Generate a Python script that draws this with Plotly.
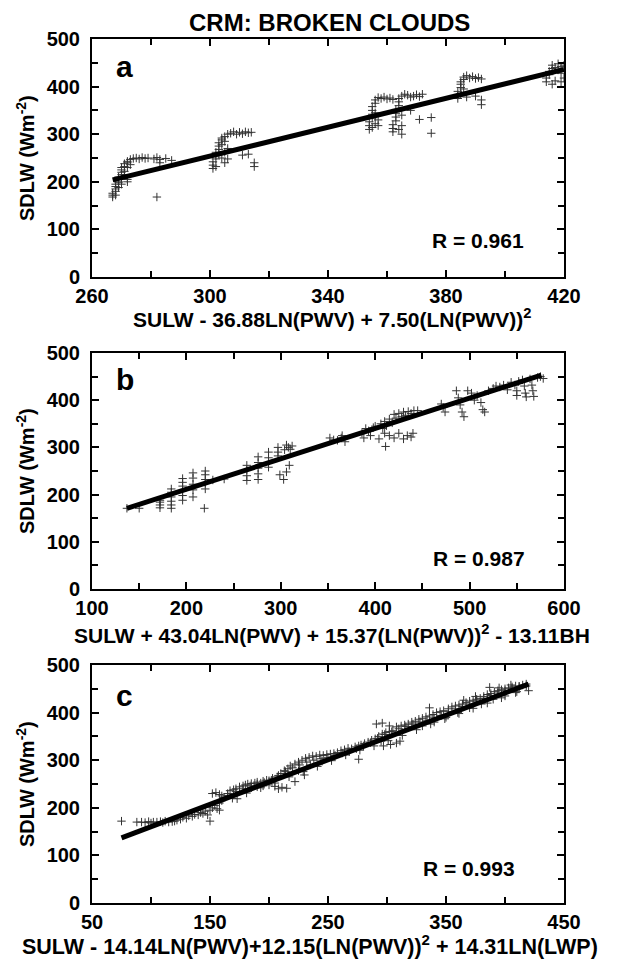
import plotly.graph_objects as go

# ---------------- data ----------------
# Panel a
a_x = [267,267,267,268,268,268,268,268,269,269,269,269,270,270,270,270,270,271,271,271,271,272,272,272,273,273,274,275,276,277,278,279,281,282,283,285,287,283,282,269,270,272,272,
       301,301,301,302,302,302,302,303,303,303,303,304,304,304,305,305,306,306,307,308,309,310,311,312,313,314,305,306,311,313,315,315,304,305,
       354,354,354,355,355,355,355,355,356,356,356,356,357,357,358,359,360,361,362,357,356,
       362,362,362,363,363,363,363,364,364,364,364,365,365,365,366,367,368,369,370,371,372,368,371,375,375,365,
       384,384,384,385,385,385,386,386,387,387,388,389,390,391,392,386,385,390,392,392,
       414,414,415,415,416,416,417,417,418,418,419,419,420,420,416,419]
a_y = [168,172,176,180,185,172,190,195,200,205,210,198,215,220,208,225,230,232,238,222,215,243,240,230,247,236,249,250,248,251,249,250,248,251,247,249,245,240,168,188,195,200,205,
       228,235,242,248,255,262,232,268,275,258,282,288,278,292,295,285,300,270,302,305,300,304,301,305,303,304,240,248,256,258,240,232,250,262,
       310,318,326,334,342,350,358,314,322,365,372,345,377,330,375,378,374,376,373,318,338,
       305,312,320,328,336,344,352,360,368,375,310,318,340,380,384,382,378,380,383,379,384,350,331,335,302,300,
       375,382,390,398,405,410,415,420,423,378,418,421,417,419,416,395,385,380,372,362,
       410,418,425,432,438,445,440,412,448,435,442,428,445,418,405,410]
a_fit_x = [267, 420]
a_fit_y = [204, 436]

# Panel b
b_x = [137,150,172,172,172,172,184,184,184,184,184,184,196,196,196,196,196,196,207,207,207,207,207,220,220,220,220,220,219,228,240,
       264,264,264,264,276,276,276,276,276,287,287,287,287,297,297,297,299,303,306,309,306,308,310,312,304,
       352,356,360,364,368,365,386,388,390,393,395,398,400,404,406,408,410,412,415,418,420,422,425,428,430,432,435,438,441,445,
       410,415,420,425,430,434,438,440,411,470,472,474,486,488,490,492,494,498,502,505,508,512,514,516,520,525,528,532,536,540,
       544,548,550,550,552,556,558,559,560,564,566,567,568,572,575,578]
b_y = [171,171,172,178,184,188,171,178,186,195,205,212,188,198,208,218,226,234,195,210,222,235,246,250,242,232,224,212,171,231,233,
       230,240,252,262,232,244,256,268,280,258,268,278,290,300,290,282,242,232,248,262,305,300,296,303,295,
       320,316,315,320,312,325,330,320,340,335,325,342,345,318,350,340,355,346,360,352,370,362,372,365,375,368,376,372,378,378,
       330,325,320,330,318,325,322,330,302,392,385,375,420,405,390,375,365,420,415,400,410,395,380,375,420,425,430,428,432,422,
       438,432,420,410,440,443,430,415,407,445,432,420,408,448,450,446]
b_fit_x = [137, 576]
b_fit_y = [171, 453]

# Panel c
c_x = [75,88,92,95,98,100,102,105,108,110,112,115,118,120,122,125,127,130,132,135,137,140,142,144,146,148,150,150,152,154,156,158,158,160,
       152,155,158,160,162,165,167,170,172,175,178,180,173,182,185,188,190,193,195,198,200,185,190,195,200,205,208,211,215,
       203,207,210,213,216,218,222,225,228,231,234,237,240,243,246,249,252,255,222,230,225,235,245,
       258,261,264,267,270,273,276,276,278,281,284,287,290,291,296,302,293,296,299,302,305,297,303,308,311,295,
       308,312,315,318,321,324,327,330,333,336,336,339,342,345,348,330,340,350,
       352,355,358,361,364,367,370,373,376,379,382,385,387,388,391,394,397,400,403,406,409,412,415,418,420,
       360,370,380,390,400,410,365,375,395,405,
       165,172,178,184,190,196,202,208,214,220,226,232,238,244,250,256,262,268,274,280,286,
       292,298,304,310,316,322,328,334,340,346,352,358,364,370,376,382,388,394,400,406,412,418,
       169,181,193,205,217,229,241,253,265,277,289,301,313,325,337,349,361,373,385,397,409]
c_y = [172,170,170,169,171,168,170,170,171,169,172,170,171,172,174,176,180,178,183,182,186,185,190,188,193,185,172,195,200,205,198,210,195,215,
       230,232,228,225,222,230,236,238,240,244,246,248,219,250,251,252,254,252,256,258,257,242,244,246,248,245,240,243,241,
       262,265,272,278,282,288,292,296,300,304,306,309,308,311,310,312,313,314,255,269,278,290,298,
       316,320,322,325,324,328,330,302,332,335,338,342,345,376,378,372,350,355,358,360,362,330,333,336,340,340,
       370,372,374,376,380,382,386,388,391,410,393,396,400,402,404,372,380,390,
       408,412,414,416,418,421,424,426,428,430,434,438,453,440,444,446,448,450,452,454,456,455,458,456,446,
       400,410,418,428,435,444,426,434,452,458,
       226,234,240,246,250,253,258,268,276,284,290,296,300,303,306,310,315,318,324,330,337,
       346,354,360,366,371,376,380,384,389,394,402,408,413,418,424,430,436,441,446,451,455,460,
       220,231,242,252,265,276,287,299,311,321,330,341,352,364,376,387,398,409,420,431,442]
c_fit_x = [75, 420]
c_fit_y = [137, 460]

panel_letters = ["a", "b", "c"]
r_labels = ["R = 0.961", "R = 0.987", "R = 0.993"]
x_titles = ["SULW - 36.88LN(PWV) + 7.50(LN(PWV))<sup>2</sup>",
            "SULW + 43.04LN(PWV) + 15.37(LN(PWV))<sup>2</sup> - 13.11BH",
            "SULW - 14.14LN(PWV)+12.15(LN(PWV))<sup>2</sup> + 14.31LN(LWP)"]
y_title = "SDLW (Wm<sup>-2</sup>)"
main_title = "CRM: BROKEN CLOUDS"

# ---------------- figure ----------------
OFF = 8                      # page body margin offset
W, H = 620 - OFF, 960 - OFF
PL, PR = 92, 564             # plot area left/right in page pixels
L = PL - OFF
R = W - (PR - OFF)

def px(x):
    return (x - OFF - L) / (W - L - R)

def py(y):
    return 1 - (y - OFF) / H

FONT = "Liberation Sans"
fig = go.Figure()

panels = [
    (a_x, a_y, a_fit_x, a_fit_y, [260, 420], 260, 40, 20, 39, 277),
    (b_x, b_y, b_fit_x, b_fit_y, [100, 600], 100, 100, 50, 353, 589),
    (c_x, c_y, c_fit_x, c_fit_y, [50, 450], 50, 100, 50, 665, 903),
]

for i, (xs, ys, fx, fy, xr, t0, dt, mdt, top, bot) in enumerate(panels):
    n = "" if i == 0 else str(i + 1)
    fig.add_trace(go.Scatter(
        x=xs, y=ys, mode="markers", xaxis="x" + n, yaxis="y" + n,
        marker=dict(symbol="cross-thin", size=6, color="#333",
                    line=dict(width=1, color="#333")),
        showlegend=False, hoverinfo="skip"))
    fig.add_trace(go.Scatter(
        x=fx, y=fy, mode="lines", xaxis="x" + n, yaxis="y" + n,
        line=dict(color="black", width=5), showlegend=False, hoverinfo="skip"))
    tickfont = dict(family=FONT, size=20, color="black", weight="bold")
    fig.layout["xaxis" + n] = dict(
        domain=[0, 1], range=xr, anchor="y" + n, tick0=t0, dtick=dt,
        automargin=False,
        ticks="inside", ticklen=7, tickwidth=2, tickcolor="black",
        showline=True, linewidth=2, linecolor="black", mirror="ticks",
        showgrid=False, zeroline=False, tickfont=tickfont,
        ticklabelstandoff=0,
        minor=dict(ticks="inside", dtick=mdt, tick0=t0, ticklen=6,
                   tickwidth=2, tickcolor="black", showgrid=False))
    fig.layout["yaxis" + n] = dict(
        domain=[py(bot), py(top)], range=[0, 500], anchor="x" + n,
        tick0=0, dtick=100, automargin=False,
        ticks="inside", ticklen=7, tickwidth=2, tickcolor="black",
        showline=True, linewidth=2, linecolor="black", mirror="ticks",
        showgrid=False, zeroline=False, tickfont=tickfont,
        ticklabelstandoff=6,
        minor=dict(ticks="inside", dtick=50, tick0=0, ticklen=6,
                   tickwidth=2, tickcolor="black", showgrid=False))

ann = []
bold = lambda s: dict(family=FONT, size=s, color="black", weight="bold")
ann.append(dict(text=main_title, x=px(329), y=py(23), xref="paper", yref="paper",
                showarrow=False, font=bold(24), xanchor="center", yanchor="middle"))
letter_y = [66, 380, 695]
r_y = [240, 558, 868]
r_x = [526, 527, 517]
xt_y = [318, 634, 945]
xt_x = [332, 332, 310]
xt_size = [21, 21, 21.5]
for i in range(3):
    top, bot = panels[i][8], panels[i][9]
    ann.append(dict(text=panel_letters[i], x=px(114), y=py(letter_y[i]), xref="paper", yref="paper",
                    showarrow=False, font=bold(30), xanchor="left", yanchor="middle"))
    ann.append(dict(text=r_labels[i], x=px(r_x[i]), y=py(r_y[i]), xref="paper", yref="paper",
                    showarrow=False, font=bold(21), xanchor="right", yanchor="middle"))
    ann.append(dict(text=x_titles[i], x=px(xt_x[i]), y=py(xt_y[i]), xref="paper", yref="paper",
                    showarrow=False, font=bold(xt_size[i]), xanchor="center", yanchor="middle"))
    ann.append(dict(text=y_title, x=px(25), y=py((top + bot) / 2), xref="paper", yref="paper",
                    showarrow=False, font=bold(20), textangle=-90,
                    xanchor="center", yanchor="middle"))

fig.update_layout(width=W, height=H, margin=dict(l=L, r=R, t=0, b=0, autoexpand=False),
                  paper_bgcolor="white", plot_bgcolor="white",
                  annotations=ann)
fig.write_html("out.html")
